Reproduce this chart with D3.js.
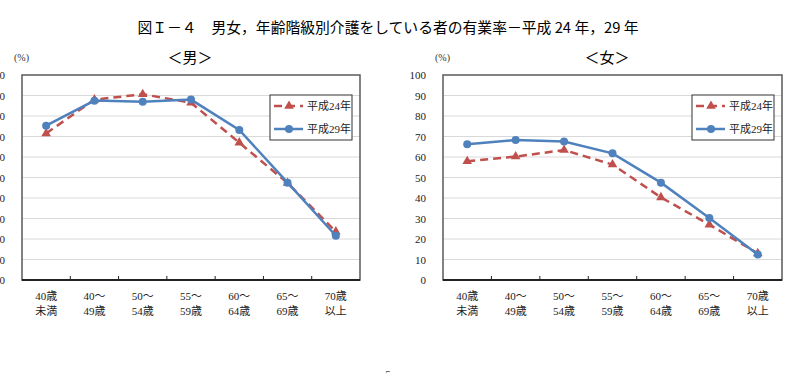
<!DOCTYPE html>
<html>
<head>
<meta charset="utf-8">
<script src="https://cdn.jsdelivr.net/npm/d3@7"></script>
<style>
  body { margin: 0; background: #fff; }
  svg { display: block; }
</style>
</head>
<body>
<div id="chart"></div>
<script>
// data
const categories = ["40歳未満", "40～49歳", "50～54歳", "55～59歳", "60～64歳", "65～69歳", "70歳以上"];
const catLine1 = ["40歳", "40～", "50～", "55～", "60～", "65～", "70歳"];
const catLine2 = ["未満", "49歳", "54歳", "59歳", "64歳", "69歳", "以上"];
const seriesNames = ["平成24年", "平成29年"];
const maleH24 = [71.5, 88.0, 90.6, 86.5, 67.0, 47.3, 23.6];
const maleH29 = [75.3, 87.5, 87.0, 88.0, 73.2, 47.5, 21.6];
const femaleH24 = [57.9, 60.2, 63.4, 56.3, 40.3, 27.0, 13.0];
const femaleH29 = [66.2, 68.3, 67.6, 61.8, 47.5, 30.2, 12.4];
const yTicks = [0, 10, 20, 30, 40, 50, 60, 70, 80, 90, 100];

const RED = "#C0504D", BLUE = "#4F81BD";
const serif = "'Liberation Serif', 'DejaVu Serif', 'Noto Sans CJK JP', serif";
const gothic = "'Noto Sans CJK JP', sans-serif";

const svg = d3.select("#chart").append("svg")
  .attr("width", 796)
  .attr("height", 373);

// main title
svg.append("text")
  .attr("x", 388).attr("y", 33)
  .attr("text-anchor", "middle")
  .attr("font-family", gothic)
  .attr("font-size", 14.8)
  .attr("font-weight", 400)
  .attr("fill", "#000")
  .text("図Ｉ－４　男女，年齢階級別介護をしている者の有業率－平成 24 年，29 年");

function drawPanel(left, right, title, titleX, h24, h29) {
  const top = 75, bottom = 280;
  const g = svg.append("g");

  const x = d3.scaleBand().domain(categories).range([left, right]);
  const y = d3.scaleLinear().domain([0, 100]).range([bottom, top]);

  // subtitle and unit
  g.append("text")
    .attr("x", titleX).attr("y", 63)
    .attr("text-anchor", "middle")
    .attr("font-family", gothic)
    .attr("font-size", 15)
    .text(title);
  g.append("text")
    .attr("x", left - 8).attr("y", 61)
    .attr("font-family", serif)
    .attr("font-size", 10)
    .attr("fill", "#333")
    .text("(%)");

  // grid
  g.append("g").selectAll("line")
    .data(yTicks.filter(d => d > 0 && d < 100))
    .join("line")
    .attr("x1", left).attr("x2", right)
    .attr("y1", d => y(d)).attr("y2", d => y(d))
    .attr("stroke", "#d9d9d9")
    .attr("stroke-width", 1);

  // frame
  g.append("rect")
    .attr("x", left).attr("y", top)
    .attr("width", right - left).attr("height", bottom - top)
    .attr("fill", "none")
    .attr("stroke", "#595959")
    .attr("stroke-width", 1.5);

  // y axis
  const yAxis = g.append("g")
    .attr("transform", `translate(${left},0)`)
    .call(d3.axisLeft(y).tickValues(yTicks).tickSize(0).tickPadding(17));
  yAxis.select(".domain").remove();
  yAxis.selectAll("text")
    .attr("font-family", serif)
    .attr("font-size", 11)
    .attr("fill", "#222");

  // x axis with inward ticks at category boundaries
  const xAxis = g.append("g")
    .attr("transform", `translate(0,${bottom})`);
  xAxis.append("line")
    .attr("x1", left).attr("x2", right)
    .attr("stroke", "#222").attr("stroke-width", 2);
  xAxis.selectAll(".tk")
    .data(categories.slice(1))
    .join("line")
    .attr("class", "tk")
    .attr("x1", d => x(d)).attr("x2", d => x(d))
    .attr("y1", 0).attr("y2", -4)
    .attr("stroke", "#222").attr("stroke-width", 1);
  const labels = xAxis.selectAll(".lb")
    .data(categories)
    .join("text")
    .attr("class", "lb")
    .attr("text-anchor", "middle")
    .attr("font-family", serif)
    .attr("font-size", 11)
    .attr("fill", "#222");
  labels.append("tspan")
    .attr("x", d => x(d) + x.bandwidth() / 2).attr("y", 20)
    .text((d, i) => catLine1[i]);
  labels.append("tspan")
    .attr("x", d => x(d) + x.bandwidth() / 2).attr("y", 35)
    .text((d, i) => catLine2[i]);

  const cx = (d, i) => x(categories[i]) + x.bandwidth() / 2;
  const line = d3.line().x(cx).y(d => y(d));

  // 平成24年
  g.append("path")
    .datum(h24)
    .attr("d", line)
    .attr("fill", "none")
    .attr("stroke", RED)
    .attr("stroke-width", 2.5)
    .attr("stroke-dasharray", "8,5");
  g.selectAll(".tri")
    .data(h24)
    .join("path")
    .attr("class", "tri")
    .attr("d", d3.symbol(d3.symbolTriangle, 40))
    .attr("transform", (d, i) => `translate(${cx(d, i)},${y(d)})`)
    .attr("fill", RED);

  // 平成29年
  g.append("path")
    .datum(h29)
    .attr("d", line)
    .attr("fill", "none")
    .attr("stroke", BLUE)
    .attr("stroke-width", 2.5);
  g.selectAll(".dot")
    .data(h29)
    .join("circle")
    .attr("class", "dot")
    .attr("cx", cx)
    .attr("cy", d => y(d))
    .attr("r", 4)
    .attr("fill", BLUE);

  // legend
  const lx = right - 90, ly = 95;
  const leg = g.append("g");
  leg.append("rect")
    .attr("x", lx).attr("y", ly)
    .attr("width", 82).attr("height", 45)
    .attr("fill", "#fff")
    .attr("stroke", "#333")
    .attr("stroke-width", 1);
  seriesNames.forEach((name, i) => {
    const ry = ly + 11 + i * 23;
    leg.append("line")
      .attr("x1", lx + 4).attr("x2", lx + 33)
      .attr("y1", ry).attr("y2", ry)
      .attr("stroke", i === 0 ? RED : BLUE)
      .attr("stroke-width", 2.5)
      .attr("stroke-dasharray", i === 0 ? "8,5" : null);
    if (i === 0) {
      leg.append("path")
        .attr("d", d3.symbol(d3.symbolTriangle, 40))
        .attr("transform", `translate(${lx + 19},${ry})`)
        .attr("fill", RED);
    } else {
      leg.append("circle")
        .attr("cx", lx + 19).attr("cy", ry).attr("r", 4)
        .attr("fill", BLUE);
    }
    leg.append("text")
      .attr("x", lx + 37).attr("y", ry + 4)
      .attr("font-family", serif)
      .attr("font-size", 11)
      .attr("fill", "#222")
      .text(name);
  });
}

drawPanel(22, 360, "＜男＞", 190, maleH24, maleH29);
drawPanel(443, 782, "＜女＞", 607, femaleH24, femaleH29);

// page number, cut at the bottom edge
svg.append("text")
  .attr("x", 388).attr("y", 378)
  .attr("text-anchor", "middle")
  .attr("font-family", serif)
  .attr("font-size", 11)
  .attr("fill", "#444")
  .text("5");
</script>
</body>
</html>
